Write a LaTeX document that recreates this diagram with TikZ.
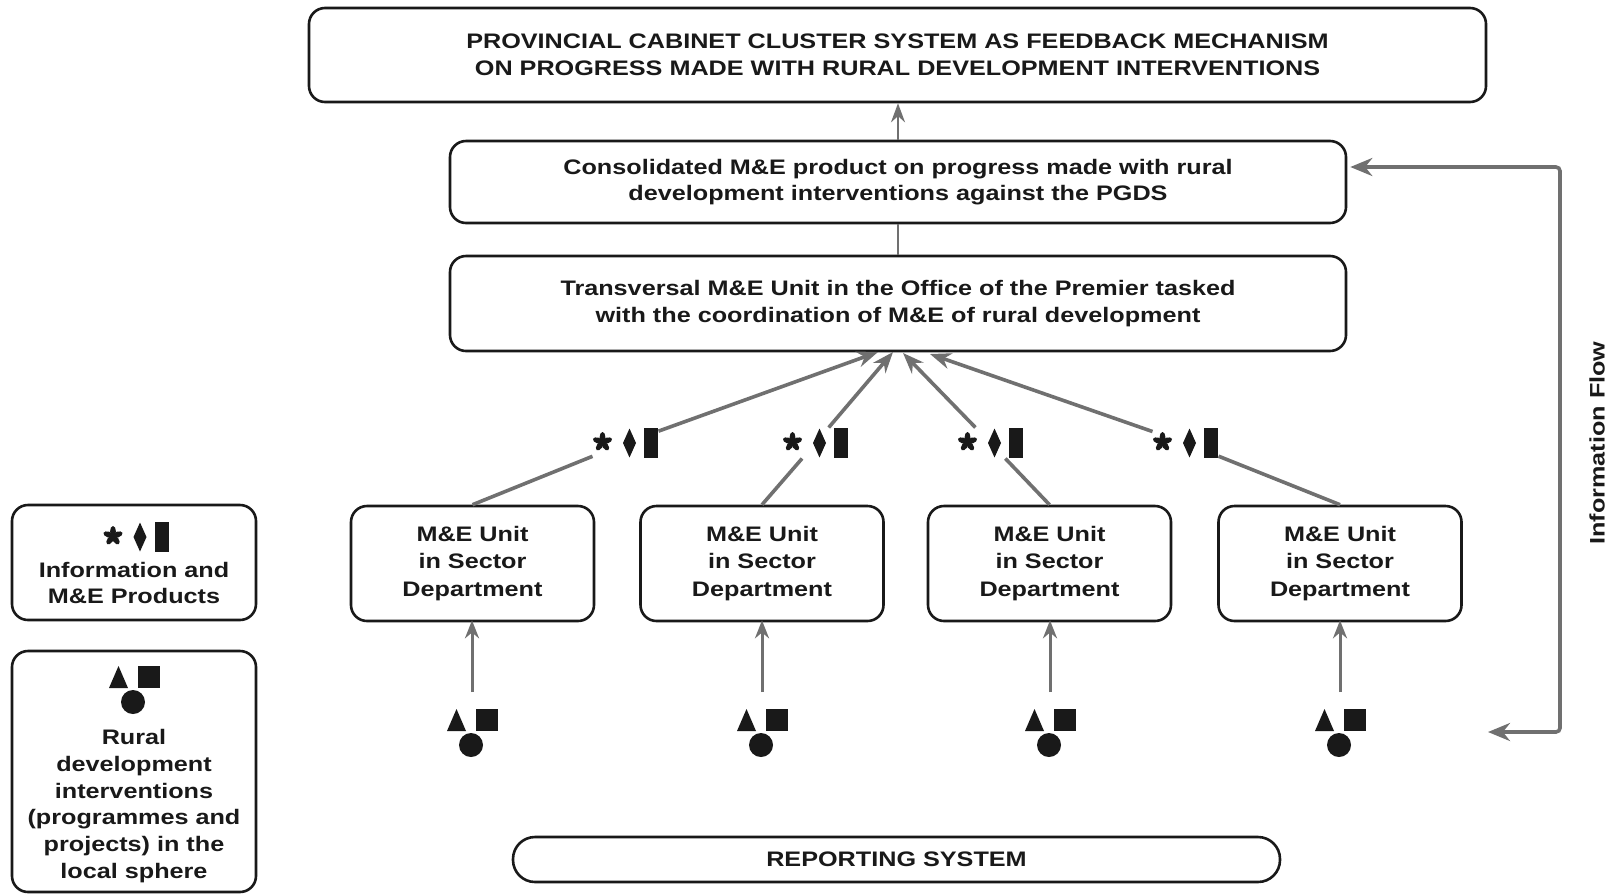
\documentclass[tikz,border=0pt]{standalone}
\usepackage{fontspec}
\setmainfont{Liberation Sans}[FakeStretch=1.2]
\usetikzlibrary{arrows.meta,calc}
\definecolor{flowgray}{RGB}{112,112,112}
\definecolor{ink}{RGB}{25,25,25}

\tikzset{
  % information and M&E products: five-petal asterisk, diamond, bar
  pics/infosym/.style={code={
    \foreach \a in {90,18,162,234,306}
      \fill[ink, shift={(-23,-1)}, rotate=\a] (4.8,0) ellipse[x radius=5.2pt, y radius=2.9pt];
    \fill[ink] (4,-14.5) -- (10.5,0) -- (4,14.5) -- (-2.5,0) -- cycle;
    \fill[ink] (18.5,-15) rectangle (32.5,15);
  }},
  % rural development interventions: triangle, square, circle
  pics/ruralsym/.style={code={
    \fill[ink] (-25,0) -- (-6,0) -- (-15.5,-22) -- cycle;
    \fill[ink] (4,-22) rectangle (26,0);
    \fill[ink] (-1,14) circle[radius=12];
  }}
}

\begin{document}
\begin{tikzpicture}[x=1pt,y=-1pt,
  box/.style={draw=ink, line width=2.6pt, rounded corners=16pt, inner sep=0pt,
    align=center, text=ink, font=\bfseries\fontsize{21}{26.7}\selectfont},
  unitbox/.style={box, minimum width=243pt, minimum height=115pt,
    font=\bfseries\fontsize{21}{27.7}\selectfont},
  lbl/.style={align=center, inner sep=0pt, text=ink,
    font=\bfseries\fontsize{21}{26.7}\selectfont},
  symslot/.style={minimum width=66pt, minimum height=31pt, inner sep=0pt, outer sep=0pt},
  ruralslot/.style={minimum width=52pt, minimum height=22pt, inner sep=0pt, outer sep=0pt},
  diag/.style={draw=flowgray, line width=3.6pt},
  diagarrow/.style={diag, -{Stealth[length=21pt, width=16pt]}},
  vertarrow/.style={draw=flowgray, line width=3pt, -{Stealth[length=18pt, width=14pt]},
    shorten <=17pt, shorten >=-2pt},
  uparrow/.style={draw=flowgray, line width=2.2pt, -{Stealth[length=19pt, width=14pt]}},
  thinline/.style={draw=flowgray, line width=2.2pt},
  fbarrow/.style={draw=flowgray, line width=3.6pt, rounded corners=4pt,
    {Stealth[length=22pt, width=18pt]}-{Stealth[length=22pt, width=18pt]}}
]
\fill[white] (0,0) rectangle (1616,895);
\useasboundingbox (0,0) rectangle (1616,895);

% main chain of boxes
\node[box, minimum width=1177pt, minimum height=94pt] (top) at (897.5,55)
  {PROVINCIAL CABINET CLUSTER SYSTEM AS FEEDBACK MECHANISM\\
   ON PROGRESS MADE WITH RURAL DEVELOPMENT INTERVENTIONS};
\node[box, minimum width=896pt, minimum height=82pt] (cons) at (898,182)
  {Consolidated M\&E product on progress made with rural\\
   development interventions against the PGDS};
\node[box, minimum width=896pt, minimum height=95pt] (trans) at (898,303.5)
  {Transversal M\&E Unit in the Office of the Premier tasked\\
   with the coordination of M\&E of rural development};

% sector department units
\node[unitbox] (m1) at (472.5,563.5) {M\&E Unit\\in Sector\\Department};
\node[unitbox] (m2) at (762,563.5)   {M\&E Unit\\in Sector\\Department};
\node[unitbox] (m3) at (1049.5,563.5){M\&E Unit\\in Sector\\Department};
\node[unitbox] (m4) at (1340,563.5)  {M\&E Unit\\in Sector\\Department};

% reporting system
\node[box, rounded corners=22pt, minimum width=767pt, minimum height=45pt] (rep)
  at (896.5,859.5) {REPORTING SYSTEM};

% legend
\node[box, minimum width=244pt, minimum height=115pt] (leg1) at (134,562.5) {};
\pic at (136,537) {infosym};
\node[lbl] (leg1txt) at (134,583)
  {Information and\\M\&E Products};
\node[box, minimum width=244pt, minimum height=241pt] (leg2) at (134,771.5) {};
\pic at (134,688) {ruralsym};
\node[lbl] (leg2txt) at (134,806)
  {Rural\\development\\interventions\\(programmes and\\projects) in the\\local sphere};

% information products on their way up
\node[symslot] (s1) at (625.5,443) {};  \pic at (s1.center) {infosym};
\node[symslot] (s2) at (815.5,443) {};  \pic at (s2.center) {infosym};
\node[symslot] (s3) at (990.5,443) {};  \pic at (s3.center) {infosym};
\node[symslot] (s4) at (1185.5,443) {}; \pic at (s4.center) {infosym};

% interventions below each unit
\node[ruralslot] (r1) at (472,720) {};  \pic at (r1.south) {ruralsym};
\node[ruralslot] (r2) at (762,720) {};  \pic at (r2.south) {ruralsym};
\node[ruralslot] (r3) at (1050,720) {}; \pic at (r3.south) {ruralsym};
\node[ruralslot] (r4) at (1340,720) {}; \pic at (r4.south) {ruralsym};

% arrow targets on the transversal unit
\coordinate (t1) at (878,352);
\coordinate (t2) at (893,352);
\coordinate (t3) at (903,353);
\coordinate (t4) at (930,354);

% upward chain
\draw[uparrow] (cons.north) -- (cons.north |- top.south);
\draw[thinline] (trans.north) -- (trans.north |- cons.south);

% units to transversal unit
\draw[diag] (m1.north) -- (s1);  \draw[diagarrow] (s1) -- (t1);
\draw[diag] (m2.north) -- (s2);  \draw[diagarrow] (s2) -- (t2);
\draw[diag] (m3.north) -- (s3);  \draw[diagarrow] (s3) -- (t3);
\draw[diag] (m4.north) -- (s4);  \draw[diagarrow] (s4) -- (t4);

% interventions to units
\draw[vertarrow] (r1.north) -- (r1.north |- m1.south);
\draw[vertarrow] (r2.north) -- (r2.north |- m2.south);
\draw[vertarrow] (r3.north) -- (r3.north |- m3.south);
\draw[vertarrow] (r4.north) -- (r4.north |- m4.south);

% feedback loop
\coordinate (fbin) at ($(cons.east)+(3,-15)$);
\coordinate (fbcorner) at (1560,732);
\coordinate (fbout) at (1488,732);
\draw[fbarrow] (fbin) -| (fbcorner) -- (fbout);
\node[lbl, rotate=90] (flowlbl) at (1597,443) {Information Flow};
\end{tikzpicture}
\end{document}
